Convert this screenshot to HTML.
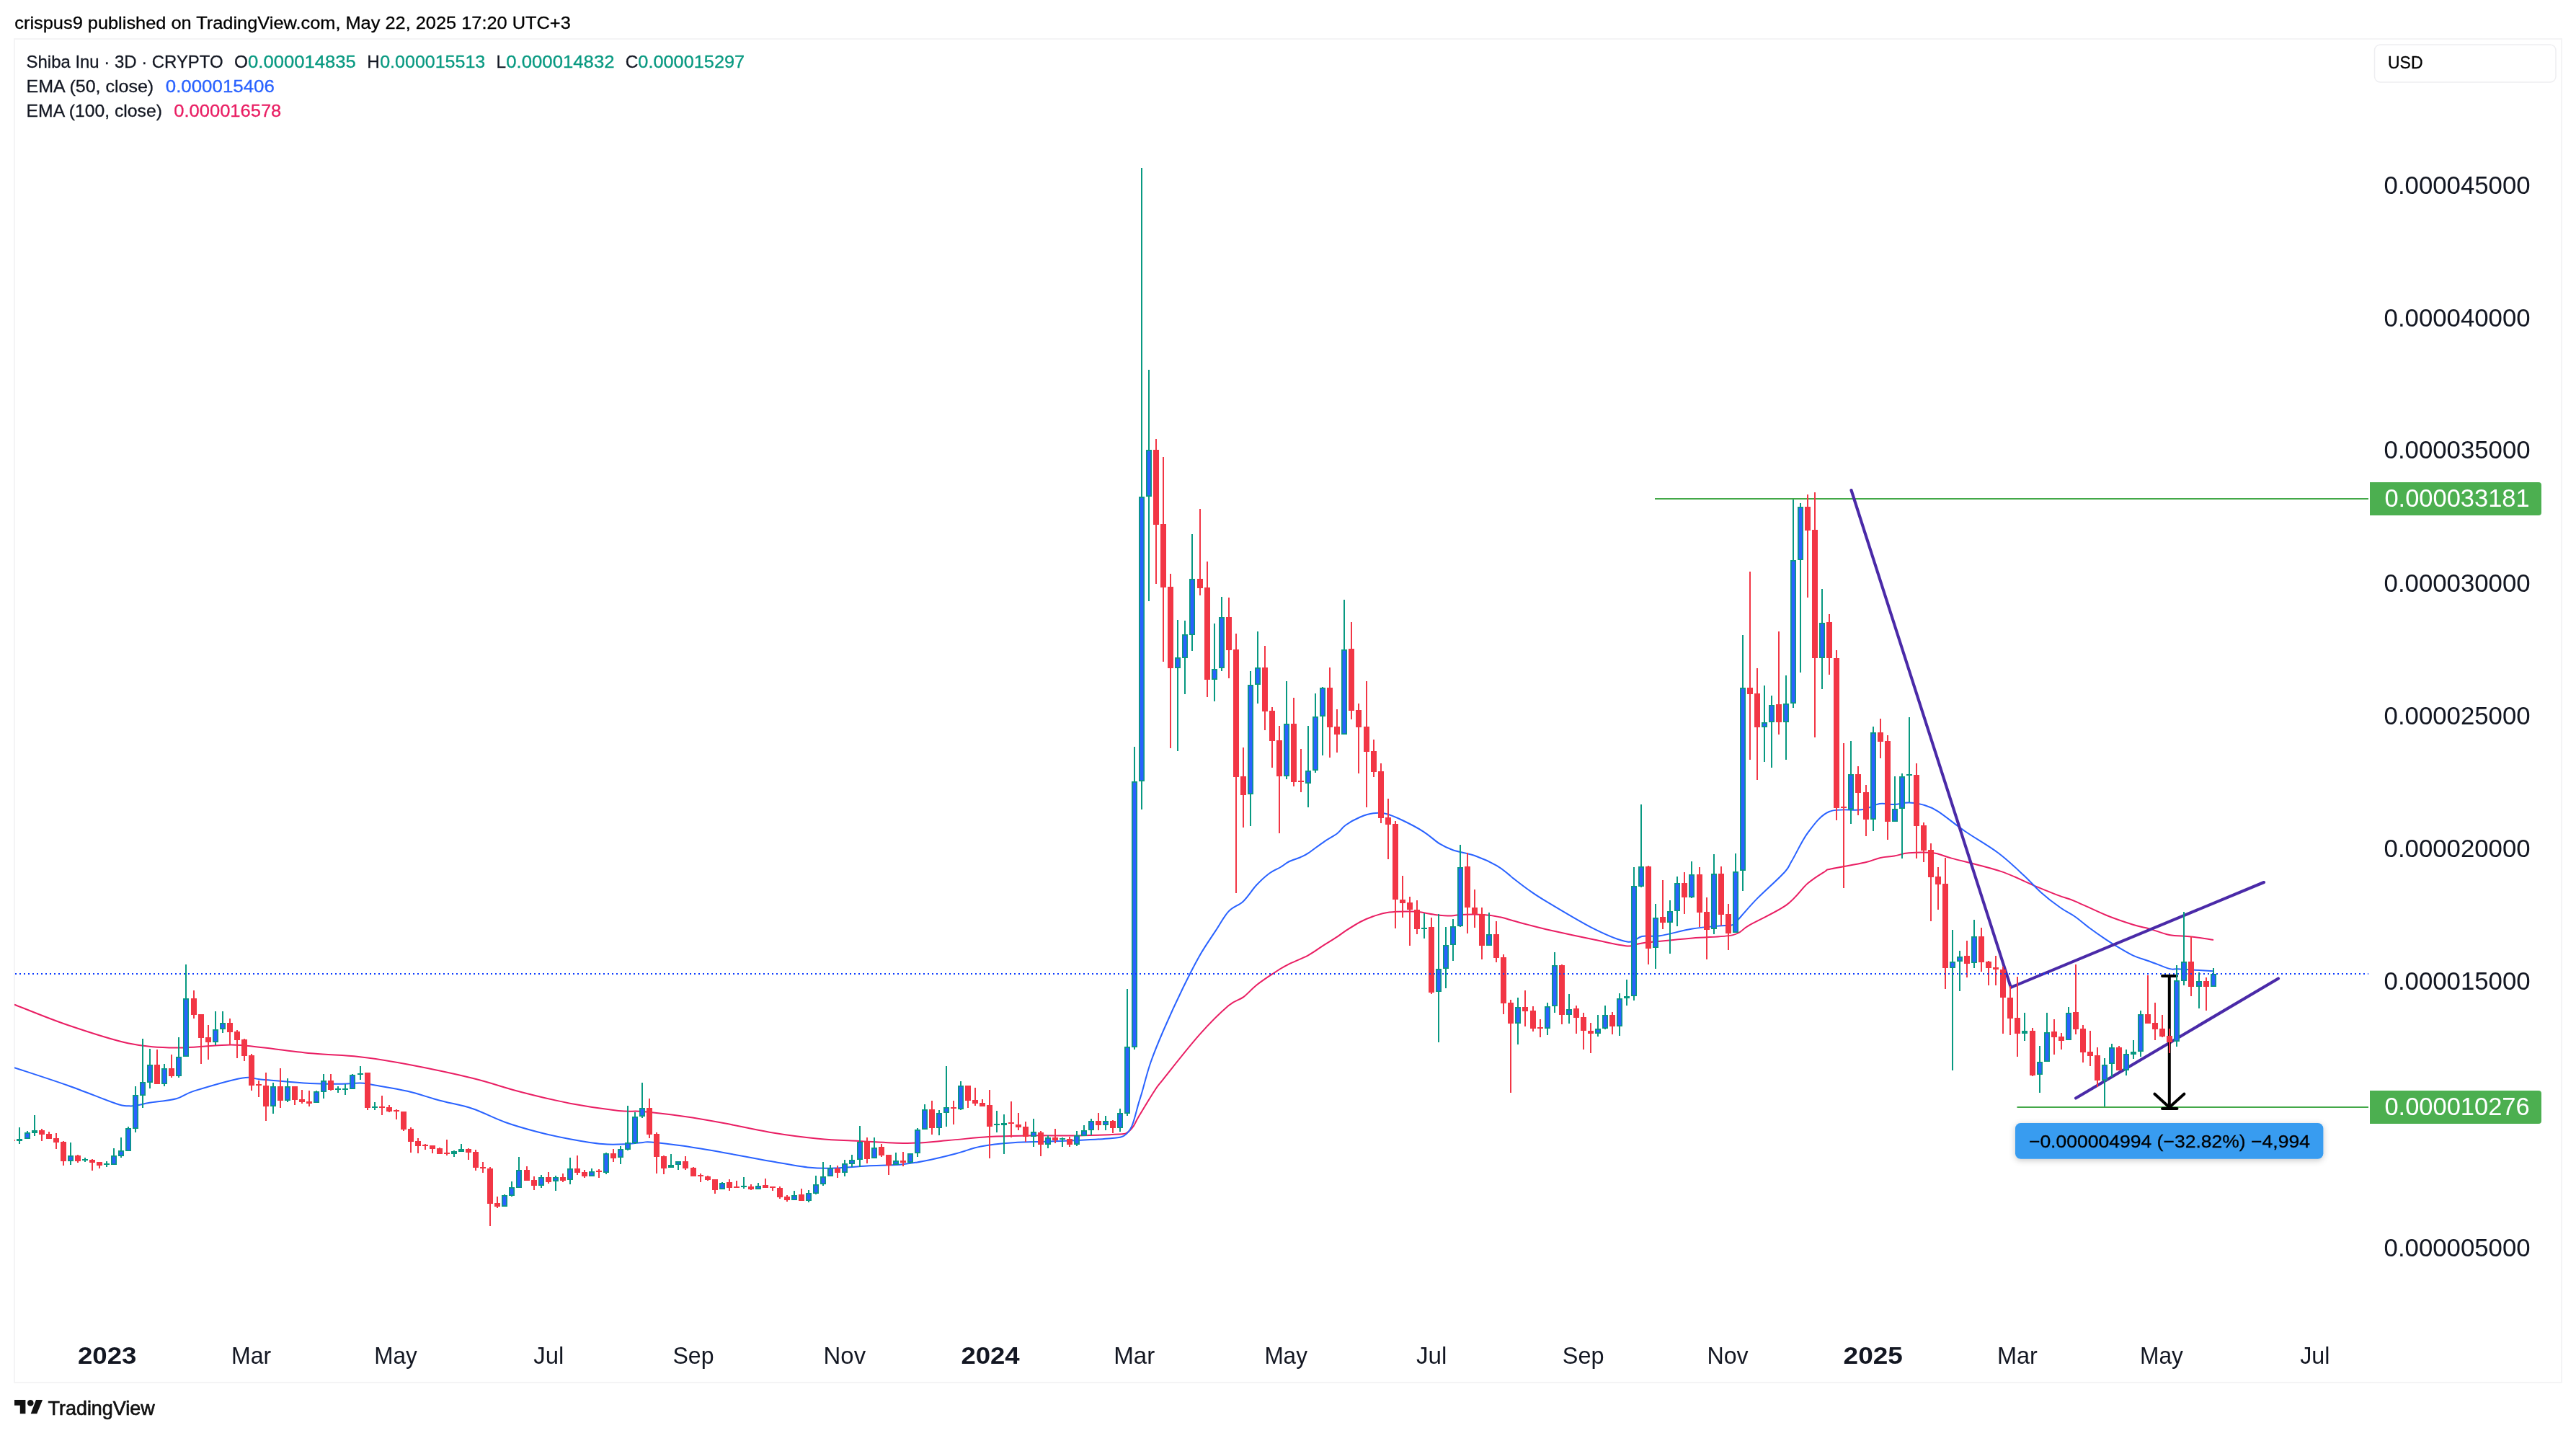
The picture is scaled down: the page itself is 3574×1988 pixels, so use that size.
<!DOCTYPE html><html><head><meta charset="utf-8"><title>Shiba Inu chart</title>
<style>html,body{margin:0;padding:0;background:#fff}svg{display:block;will-change:transform}text{font-family:"Liberation Sans", sans-serif;white-space:pre}</style></head><body>
<svg width="3574" height="1988" viewBox="0 0 3574 1988">
<defs><clipPath id="plot"><rect x="20" y="55" width="3266" height="1862"/></clipPath><filter id="sh" x="-6%" y="-40%" width="112%" height="190%"><feDropShadow dx="0" dy="2" stdDeviation="4.5" flood-color="#000" flood-opacity="0.22"/></filter></defs>
<rect width="3574" height="1988" fill="#fff"/>
<rect x="20" y="54" width="3534" height="1864" fill="none" stroke="#f4f4f5" stroke-width="2"/>
<text x="20.3" y="39.8" font-size="24.5" fill="#000" stroke="#000" stroke-width="0.3" textLength="771.5" lengthAdjust="spacingAndGlyphs">crispus9 published on TradingView.com, May 22, 2025 17:20 UTC+3</text>
<text x="36.6" y="93.6" font-size="24.3" fill="#131722" stroke="#131722" stroke-width="0.3" textLength="273" lengthAdjust="spacingAndGlyphs">Shiba Inu · 3D · CRYPTO</text>
<text x="324.9" y="93.6" font-size="24.3" fill="#131722" stroke="#131722" stroke-width="0.3">O</text>
<text x="344" y="93.6" font-size="24.3" fill="#089981" stroke="#089981" stroke-width="0.3" textLength="149.8" lengthAdjust="spacingAndGlyphs">0.000014835</text>
<text x="509.2" y="93.6" font-size="24.3" fill="#131722" stroke="#131722" stroke-width="0.3">H</text>
<text x="527.2" y="93.6" font-size="24.3" fill="#089981" stroke="#089981" stroke-width="0.3" textLength="146.1" lengthAdjust="spacingAndGlyphs">0.000015513</text>
<text x="688.5" y="93.6" font-size="24.3" fill="#131722" stroke="#131722" stroke-width="0.3">L</text>
<text x="702.3" y="93.6" font-size="24.3" fill="#089981" stroke="#089981" stroke-width="0.3" textLength="150.2" lengthAdjust="spacingAndGlyphs">0.000014832</text>
<text x="867.8" y="93.6" font-size="24.3" fill="#131722" stroke="#131722" stroke-width="0.3">C</text>
<text x="885.3" y="93.6" font-size="24.3" fill="#089981" stroke="#089981" stroke-width="0.3" textLength="147.9" lengthAdjust="spacingAndGlyphs">0.000015297</text>
<text x="36.6" y="127.8" font-size="24.3" fill="#131722" stroke="#131722" stroke-width="0.3" textLength="176.6" lengthAdjust="spacingAndGlyphs">EMA (50, close)</text>
<text x="229.8" y="127.8" font-size="24.3" fill="#2962FF" stroke="#2962FF" stroke-width="0.3" textLength="151" lengthAdjust="spacingAndGlyphs">0.000015406</text>
<text x="36.6" y="161.7" font-size="24.3" fill="#131722" stroke="#131722" stroke-width="0.3" textLength="188.3" lengthAdjust="spacingAndGlyphs">EMA (100, close)</text>
<text x="241.3" y="161.7" font-size="24.3" fill="#E91E63" stroke="#E91E63" stroke-width="0.3" textLength="149" lengthAdjust="spacingAndGlyphs">0.000016578</text>
<rect x="3294.5" y="62" width="251.5" height="52" rx="8" fill="#fff" stroke="#eeeef1" stroke-width="1.5"/>
<text x="3313" y="95.3" font-size="24.3" fill="#000" stroke="#000" stroke-width="0.3" textLength="48.5" lengthAdjust="spacingAndGlyphs">USD</text>
<text x="3307.6" y="268.6" font-size="34.5" fill="#131722" textLength="203" lengthAdjust="spacingAndGlyphs">0.000045000</text>
<text x="3307.6" y="452.8" font-size="34.5" fill="#131722" textLength="203" lengthAdjust="spacingAndGlyphs">0.000040000</text>
<text x="3307.6" y="636.4" font-size="34.5" fill="#131722" textLength="203" lengthAdjust="spacingAndGlyphs">0.000035000</text>
<text x="3307.6" y="821.3" font-size="34.5" fill="#131722" textLength="203" lengthAdjust="spacingAndGlyphs">0.000030000</text>
<text x="3307.6" y="1005.4" font-size="34.5" fill="#131722" textLength="203" lengthAdjust="spacingAndGlyphs">0.000025000</text>
<text x="3307.6" y="1189.2" font-size="34.5" fill="#131722" textLength="203" lengthAdjust="spacingAndGlyphs">0.000020000</text>
<text x="3307.6" y="1373.2" font-size="34.5" fill="#131722" textLength="203" lengthAdjust="spacingAndGlyphs">0.000015000</text>
<text x="3307.6" y="1742.6" font-size="34.5" fill="#131722" textLength="203" lengthAdjust="spacingAndGlyphs">0.000005000</text>
<text x="108" y="1892.2" font-size="33.9" fill="#131722" textLength="81.5" lengthAdjust="spacingAndGlyphs" font-weight="bold">2023</text>
<text x="321" y="1892.2" font-size="33.9" fill="#131722" textLength="55.1" lengthAdjust="spacingAndGlyphs">Mar</text>
<text x="519.2" y="1892.2" font-size="33.9" fill="#131722" textLength="59.5" lengthAdjust="spacingAndGlyphs">May</text>
<text x="740.2" y="1892.2" font-size="33.9" fill="#131722" textLength="42.1" lengthAdjust="spacingAndGlyphs">Jul</text>
<text x="933.4" y="1892.2" font-size="33.9" fill="#131722" textLength="57.1" lengthAdjust="spacingAndGlyphs">Sep</text>
<text x="1142.6" y="1892.2" font-size="33.9" fill="#131722" textLength="58.5" lengthAdjust="spacingAndGlyphs">Nov</text>
<text x="1333.4" y="1892.2" font-size="33.9" fill="#131722" textLength="81.3" lengthAdjust="spacingAndGlyphs" font-weight="bold">2024</text>
<text x="1545.2" y="1892.2" font-size="33.9" fill="#131722" textLength="57.1" lengthAdjust="spacingAndGlyphs">Mar</text>
<text x="1754.4" y="1892.2" font-size="33.9" fill="#131722" textLength="59.5" lengthAdjust="spacingAndGlyphs">May</text>
<text x="1965" y="1892.2" font-size="33.9" fill="#131722" textLength="42.5" lengthAdjust="spacingAndGlyphs">Jul</text>
<text x="2167.8" y="1892.2" font-size="33.9" fill="#131722" textLength="57.7" lengthAdjust="spacingAndGlyphs">Sep</text>
<text x="2368.4" y="1892.2" font-size="33.9" fill="#131722" textLength="57.3" lengthAdjust="spacingAndGlyphs">Nov</text>
<text x="2557.6" y="1892.2" font-size="33.9" fill="#131722" textLength="82.3" lengthAdjust="spacingAndGlyphs" font-weight="bold">2025</text>
<text x="2771" y="1892.2" font-size="33.9" fill="#131722" textLength="55.9" lengthAdjust="spacingAndGlyphs">Mar</text>
<text x="2969" y="1892.2" font-size="33.9" fill="#131722" textLength="59.9" lengthAdjust="spacingAndGlyphs">May</text>
<text x="3191.2" y="1892.2" font-size="33.9" fill="#131722" textLength="41.3" lengthAdjust="spacingAndGlyphs">Jul</text>
<g clip-path="url(#plot)">
<path d="M2296 692H3286M2798.5 1536H3286" stroke="#43A848" stroke-width="2" fill="none"/>
<path d="M20 1393.6C32.3 1398.3 67.5 1413.1 93.8 1422C120 1430.9 152.4 1441.9 177.5 1447.2C202.6 1452.5 220.8 1453.2 244.5 1453.6C268.2 1454 300.3 1449.5 319.9 1449.4C339.4 1449.3 342.6 1451 361.8 1453C381 1455 412.4 1459.4 435 1461.6C457.6 1463.8 475.9 1463.5 497.6 1466C519.3 1468.5 539 1471.6 565.3 1476.6C591.6 1481.6 629.1 1489.4 655.4 1495.8C681.7 1502.2 700.5 1509.2 723 1515C745.5 1520.8 768.2 1526.4 790.7 1530.7C813.2 1535 841.4 1539 858.3 1540.9C875.2 1542.8 877.1 1540.7 892.1 1542C907.1 1543.3 929.7 1546.1 948.5 1548.8C967.3 1551.5 985.1 1554.6 1005 1558.3C1024.8 1562 1045.9 1567.1 1067.6 1570.7C1089.3 1574.3 1114.6 1577.7 1135.3 1579.7C1156 1581.8 1170.9 1582 1191.6 1583C1212.2 1584 1238.5 1586.2 1259.2 1586C1279.9 1585.8 1296.8 1583.6 1315.6 1582.1C1334.4 1580.6 1353.2 1578.1 1372 1577C1390.8 1575.9 1407.6 1575.7 1428.3 1575.4C1449 1575.1 1475.2 1575.7 1495.9 1575.4C1516.6 1575.1 1541 1574.3 1552.3 1573.6C1563.6 1572.9 1560.2 1573.2 1563.6 1571.3C1567 1569.4 1569.9 1566 1572.6 1562.3C1575.3 1558.5 1575.1 1557 1580 1548.8C1584.9 1540.6 1596.3 1521.7 1602 1513C1607.7 1504.3 1604.1 1509.5 1614.4 1496.6C1624.7 1483.7 1649 1452.6 1664 1435.7C1679 1418.8 1694.4 1403.8 1704.6 1395.1C1714.8 1386.4 1718.5 1388.1 1724.9 1383.4C1731.3 1378.7 1736.2 1372.4 1742.9 1367C1749.7 1361.6 1758.3 1355.9 1765.4 1351.2C1772.5 1346.5 1777.4 1343.1 1785.7 1338.8C1794 1334.5 1806.3 1330 1815 1325.3C1823.7 1320.6 1830.8 1314.9 1837.6 1310.6C1844.4 1306.3 1850.7 1302.5 1855.6 1299.3C1860.5 1296.1 1861.6 1294.8 1866.9 1291.4C1872.2 1288 1880.8 1282.4 1887.2 1279C1893.6 1275.6 1898.5 1273.5 1905.2 1271.2C1912 1269 1919.1 1266.6 1927.7 1265.5C1936.3 1264.4 1950.2 1264.5 1957 1264.4C1963.8 1264.3 1962.6 1264.3 1968.3 1265.1C1974 1265.8 1983.4 1268 1990.9 1268.9C1998.4 1269.8 2007.4 1270.5 2013.4 1270.5C2019.4 1270.5 2019.4 1269.2 2026.9 1268.9C2034.4 1268.6 2049.5 1268.3 2058.5 1268.9C2067.5 1269.5 2074.1 1270.9 2081 1272.3C2087.9 1273.7 2093.5 1275.7 2100 1277.5C2106.5 1279.3 2112.5 1281 2120 1282.9C2127.5 1284.9 2129.7 1285.7 2145.1 1289.2C2160.5 1292.7 2193.9 1299.9 2212.7 1303.8C2231.5 1307.7 2246.9 1311.6 2257.8 1312.4C2268.7 1313.2 2263.1 1310.2 2278.1 1308.4C2293.1 1306.6 2327 1303.5 2348 1301.6C2369 1299.7 2391.2 1300.1 2404.3 1297.1C2417.5 1294.1 2414.5 1290.5 2426.9 1283.6C2439.3 1276.6 2465.2 1265.1 2478.7 1255.4C2492.2 1245.7 2499.1 1233.3 2508 1225.6C2516.9 1217.9 2526.7 1212.3 2532 1209C2537.3 1205.7 2530.8 1207.6 2540 1205.5C2549.2 1203.4 2575.9 1199.2 2587.4 1196.6C2598.9 1194 2602.2 1191.4 2609 1189.9C2615.8 1188.4 2621.4 1188.7 2628 1187.6C2634.6 1186.5 2639.3 1184 2648.3 1183.3C2657.3 1182.6 2672.2 1182.1 2682.1 1183.3C2692 1184.5 2692.1 1186.4 2707.6 1190.6C2723.1 1194.8 2756.5 1202.4 2775.3 1208.6C2794.1 1214.8 2806.8 1222.2 2820.3 1227.8C2833.8 1233.4 2846.6 1238.7 2856.4 1242.4C2866.2 1246.2 2868.1 1245.8 2879 1250.3C2889.9 1254.8 2908.3 1264 2921.8 1269.5C2935.3 1275 2950 1279.8 2960.1 1283C2970.2 1286.2 2974.3 1286.3 2982.6 1288.6C2990.9 1290.9 3000.1 1295.2 3009.7 1297C3019.3 1298.8 3029.9 1298.3 3040.1 1299.5C3050.3 1300.7 3065.8 1303.2 3071 1304" fill="none" stroke="#E91E63" stroke-width="2" stroke-linejoin="round"/>
<path d="M20 1481.2C32.3 1485.3 70.3 1497.5 93.8 1505.8C117.3 1514.1 146.6 1526.2 160.8 1531C175 1535.8 174.7 1533.8 179.2 1534.3C183.7 1534.8 185.1 1534.1 187.6 1533.8C190.1 1533.5 191 1533.3 194.3 1532.6C197.7 1531.9 199.3 1531.2 207.7 1529.8C216.1 1528.4 234.2 1527 244.5 1524.3C254.8 1521.6 254.3 1518.2 269.6 1513.4C285 1508.6 321.2 1498.1 336.6 1495.4C352 1492.8 346.2 1496.2 361.8 1497.5C377.4 1498.8 411.1 1502 430 1503C448.9 1504 463.4 1503.8 475 1503.7C486.6 1503.6 492.4 1502.3 499.9 1502.6C507.4 1502.9 509.3 1503.6 520.2 1505.5C531.1 1507.4 550.3 1510.3 565.3 1513.8C580.3 1517.3 595.3 1522.7 610.3 1526.7C625.3 1530.7 640.4 1533 655.4 1538C670.4 1543 685.5 1551.3 700.5 1556.7C715.5 1562.1 730.6 1566.3 745.6 1570.2C760.6 1574.1 775.7 1577.5 790.7 1580.3C805.7 1583.1 822.6 1586 835.8 1587.1C848.9 1588.2 860.2 1587.5 869.6 1587.1C879 1586.7 886.5 1585.4 892.1 1584.9C897.7 1584.5 894 1583.6 903.4 1584.4C912.8 1585.2 931.6 1587.3 948.5 1589.8C965.4 1592.3 985.1 1595.7 1005 1599.2C1024.8 1602.7 1047.8 1607.4 1067.6 1610.8C1087.4 1614.2 1109 1618.2 1124 1619.8C1139 1621.4 1144.6 1620.9 1157.8 1620.5C1171 1620.1 1187.9 1618.3 1202.9 1617.5C1217.9 1616.7 1234.8 1616.8 1248 1615.7C1261.2 1614.6 1268.6 1613.4 1281.8 1610.8C1295 1608.2 1313.8 1603.6 1326.9 1600.2C1340.1 1596.8 1347.6 1593 1360.7 1590.5C1373.8 1588 1390.8 1586.4 1405.8 1585.3C1420.8 1584.2 1435.9 1584.2 1450.9 1583.7C1465.9 1583.2 1480.9 1582.8 1495.9 1582.1C1510.9 1581.3 1530.5 1580.2 1541 1579.2C1551.5 1578.2 1554.2 1578.6 1559.1 1575.8C1564 1573 1566.8 1570 1570.3 1562.3C1573.8 1554.6 1577.5 1537.8 1580 1529.6C1582.5 1521.4 1582.4 1522.3 1585.1 1513C1587.8 1503.7 1591.5 1488 1596.4 1474C1601.3 1460 1606.9 1446.3 1614.4 1429C1621.9 1411.7 1633.1 1387.4 1641.4 1370.3C1649.7 1353.2 1656.5 1339.6 1664 1326.4C1671.5 1313.2 1679.7 1301.7 1686.5 1291.4C1693.3 1281.1 1698.2 1271.2 1704.6 1264.4C1711 1257.6 1718.5 1256.4 1724.9 1250.4C1731.3 1244.4 1737.1 1234.6 1742.9 1228.3C1748.8 1222 1754.4 1216.7 1760 1212.5C1765.6 1208.3 1772 1205.8 1776.7 1203C1781.4 1200.2 1783.5 1197.8 1788 1195.5C1792.5 1193.2 1799.3 1191.5 1803.8 1189.5C1808.3 1187.5 1809.4 1187.4 1815 1183.7C1820.6 1180 1830.8 1171.9 1837.6 1167.3C1844.4 1162.7 1850.7 1159.8 1855.6 1156C1860.5 1152.2 1861.6 1148.5 1866.9 1144.7C1872.2 1141 1880.8 1136.2 1887.2 1133.5C1893.6 1130.8 1899.2 1129 1905.2 1128.3C1911.2 1127.5 1916.4 1127.4 1923.2 1129C1930 1130.6 1937.2 1133.9 1945.8 1138C1954.4 1142.1 1966.5 1148.3 1975.1 1153.8C1983.7 1159.2 1990.8 1166.5 1997.6 1170.7C2004.4 1174.9 2007.4 1176.4 2015.7 1179.2C2024 1182 2037.1 1183.9 2047.2 1187.5C2057.3 1191.1 2069 1196.6 2076.5 1200.8C2084 1205 2088.4 1209.4 2092.3 1212.4C2096.2 1215.4 2095.4 1215.3 2100 1218.9C2104.6 1222.5 2112.5 1228.8 2120 1234C2127.5 1239.2 2129.7 1241.2 2145.1 1250.4C2160.5 1259.6 2193.9 1279.9 2212.7 1289.2C2231.5 1298.5 2246.9 1304.9 2257.8 1306.5C2268.7 1308.1 2270.6 1300.3 2278.1 1298.9C2285.6 1297.5 2291.2 1299.9 2302.9 1298.2C2314.6 1296.5 2333.7 1290.8 2348 1288.5C2362.3 1286.2 2379.1 1285.1 2388.5 1284.2C2397.9 1283.3 2399.8 1285.1 2404.3 1282.9C2408.8 1280.7 2410 1277.3 2415.6 1271.2C2421.2 1265.1 2428.2 1256.4 2438.1 1246.4C2448 1236.4 2467 1219.7 2475 1211C2483 1202.3 2480.4 1203.6 2486 1194.3C2491.6 1185 2499.9 1166.3 2508.5 1154.9C2517.1 1143.5 2525.4 1131.3 2537.8 1126C2550.2 1120.7 2571.2 1125.1 2582.9 1123.3C2594.6 1121.5 2600.2 1116.2 2607.7 1115C2615.2 1113.8 2621.2 1116.3 2628 1116.1C2634.8 1115.9 2641.5 1113.5 2648.3 1113.6C2655.1 1113.7 2661.8 1114.6 2668.6 1116.6C2675.3 1118.6 2679.2 1119.5 2688.8 1125.6C2698.4 1131.7 2712.1 1143.4 2726 1153C2739.9 1162.6 2758.3 1172.8 2772 1183C2785.7 1193.2 2798.1 1205.3 2808 1214.5C2817.9 1223.7 2823.2 1230.4 2831.6 1237.9C2840 1245.4 2850.8 1253.7 2858.7 1259.3C2866.6 1264.9 2872.2 1267 2879 1271.7C2885.8 1276.4 2892.1 1282.2 2899.2 1287.5C2906.3 1292.8 2915 1298.8 2921.8 1303.3C2928.6 1307.8 2933.4 1310.8 2939.8 1314.6C2946.2 1318.3 2953 1322.6 2960.1 1325.8C2967.2 1329 2974.3 1330.7 2982.6 1333.7C2990.9 1336.7 3003.3 1342.1 3009.7 1343.9C3016.1 1345.7 3015 1344 3021 1344.3C3027 1344.6 3037.5 1345.2 3045.8 1345.7C3054.1 1346.2 3066.8 1347 3071 1347.2" fill="none" stroke="#2962FF" stroke-width="2" stroke-linejoin="round"/>
<path d="M2568.5 680L2789.9 1369.8L3141 1224M2880 1523.5L3161 1357.5" fill="none" stroke="#4A2AA8" stroke-width="4.1" stroke-linecap="round" stroke-linejoin="round"/>
<path d="M3000 1354H3020M3009.8 1354V1536M2989.5 1517.7L3009.8 1536.2L3030.3 1517.7M3000 1538H3020.5" fill="none" stroke="#000" stroke-width="4" stroke-linecap="round" stroke-linejoin="round"/>
<path d="M3060 1356h2v46h-2zM3057 1361h8v8h-8zM3039 1299h2v83h-2zM3036 1334h8v35h-8zM3009 1427h2v34h-2zM3006 1437h8v9h-8zM2999 1408h2v31h-2zM2996 1427h8v11h-8zM2989 1391h2v52h-2zM2986 1419h8v9h-8zM2979 1353h2v67h-2zM2976 1407h8v13h-8zM2939 1451h2v34h-2zM2936 1453h8v32h-8zM2909 1453h2v55h-2zM2906 1464h8v35h-8zM2899 1430h2v49h-2zM2896 1459h8v6h-8zM2889 1422h2v52h-2zM2886 1427h8v33h-8zM2879 1338h2v97h-2zM2876 1404h8v24h-8zM2859 1433h2v23h-2zM2856 1438h8v6h-8zM2849 1414h2v49h-2zM2846 1431h8v8h-8zM2819 1426h2v67h-2zM2816 1430h8v62h-8zM2798 1355h2v111h-2zM2795 1412h8v22h-8zM2788 1368h2v68h-2zM2785 1384h8v29h-8zM2778 1341h2v93h-2zM2775 1345h8v39h-8zM2768 1326h2v41h-2zM2765 1342h8v3h-8zM2758 1333h2v34h-2zM2755 1334h8v9h-8zM2748 1287h2v61h-2zM2745 1299h8v36h-8zM2728 1305h2v51h-2zM2725 1326h8v11h-8zM2698 1190h2v182h-2zM2695 1226h8v117h-8zM2688 1203h2v59h-2zM2685 1216h8v11h-8zM2678 1170h2v108h-2zM2675 1179h8v38h-8zM2668 1141h2v55h-2zM2665 1145h8v35h-8zM2658 1059h2v132h-2zM2655 1075h8v71h-8zM2618 1020h2v145h-2zM2615 1028h8v112h-8zM2608 997h2v55h-2zM2605 1016h8v13h-8zM2588 1089h2v71h-2zM2585 1099h8v38h-8zM2577 1063h2v68h-2zM2574 1074h8v26h-8zM2557 1031h2v201h-2zM2554 1119h8v2h-8zM2547 902h2v236h-2zM2544 913h8v208h-8zM2537 852h2v84h-2zM2534 863h8v50h-8zM2517 683h2v340h-2zM2514 735h8v178h-8zM2507 686h2v143h-2zM2504 703h8v33h-8zM2467 876h2v143h-2zM2464 977h8v25h-8zM2437 927h2v155h-2zM2434 962h8v47h-8zM2427 793h2v261h-2zM2424 954h8v9h-8zM2397 1254h2v64h-2zM2394 1268h8v27h-8zM2387 1202h2v82h-2zM2384 1212h8v57h-8zM2367 1245h2v86h-2zM2364 1265h8v25h-8zM2357 1203h2v83h-2zM2354 1213h8v53h-8zM2336 1210h2v58h-2zM2333 1225h8v20h-8zM2306 1221h2v68h-2zM2303 1272h8v8h-8zM2286 1201h2v137h-2zM2283 1202h8v114h-8zM2236 1404h2v31h-2zM2233 1408h8v16h-8zM2206 1419h2v42h-2zM2203 1430h8v4h-8zM2196 1405h2v51h-2zM2193 1411h8v19h-8zM2186 1395h2v39h-2zM2183 1399h8v13h-8zM2166 1338h2v83h-2zM2163 1339h8v69h-8zM2136 1414h2v25h-2zM2133 1425h8v2h-8zM2126 1396h2v35h-2zM2123 1402h8v25h-8zM2115 1374h2v50h-2zM2112 1397h8v6h-8zM2095 1387h2v129h-2zM2092 1391h8v29h-8zM2085 1324h2v83h-2zM2082 1328h8v64h-8zM2075 1278h2v57h-2zM2072 1296h8v33h-8zM2055 1259h2v72h-2zM2052 1268h8v44h-8zM2045 1234h2v53h-2zM2042 1259h8v9h-8zM2035 1183h2v112h-2zM2032 1202h8v57h-8zM1985 1273h2v106h-2zM1982 1286h8v91h-8zM1965 1249h2v47h-2zM1962 1262h8v27h-8zM1955 1244h2v68h-2zM1952 1252h8v10h-8zM1945 1215h2v58h-2zM1942 1248h8v5h-8zM1935 1139h2v149h-2zM1932 1143h8v105h-8zM1925 1108h2v84h-2zM1922 1134h8v10h-8zM1915 1059h2v83h-2zM1912 1070h8v65h-8zM1905 1026h2v52h-2zM1902 1042h8v29h-8zM1895 945h2v175h-2zM1892 1008h8v35h-8zM1884 976h2v97h-2zM1881 985h8v24h-8zM1874 863h2v135h-2zM1871 900h8v86h-8zM1854 984h2v60h-2zM1851 1008h8v11h-8zM1844 926h2v125h-2zM1841 954h8v55h-8zM1804 1039h2v60h-2zM1801 1083h8v2h-8zM1794 968h2v123h-2zM1791 1004h8v81h-8zM1774 1007h2v149h-2zM1771 1027h8v50h-8zM1764 981h2v84h-2zM1761 986h8v42h-8zM1754 896h2v117h-2zM1751 926h8v61h-8zM1724 1037h2v111h-2zM1721 1077h8v26h-8zM1714 879h2v360h-2zM1711 901h8v177h-8zM1704 829h2v112h-2zM1701 856h8v46h-8zM1674 779h2v188h-2zM1671 815h8v128h-8zM1664 706h2v120h-2zM1661 803h8v13h-8zM1623 796h2v242h-2zM1620 814h8v113h-8zM1613 634h2v284h-2zM1610 727h8v88h-8zM1603 609h2v201h-2zM1600 624h8v104h-8zM1543 1554h2v18h-2zM1540 1555h8v10h-8zM1523 1544h2v24h-2zM1520 1555h8v6h-8zM1483 1577h2v14h-2zM1480 1580h8v8h-8zM1463 1566h2v20h-2zM1460 1578h8v4h-8zM1443 1569h2v35h-2zM1440 1571h8v17h-8zM1422 1556h2v28h-2zM1419 1563h8v14h-8zM1412 1544h2v24h-2zM1409 1560h8v4h-8zM1402 1528h2v50h-2zM1399 1557h8v2h-8zM1372 1512h2v95h-2zM1369 1533h8v30h-8zM1362 1525h2v10h-2zM1359 1530h8v5h-8zM1352 1509h2v25h-2zM1349 1526h8v5h-8zM1342 1506h2v31h-2zM1339 1506h8v21h-8zM1322 1527h2v33h-2zM1319 1536h8v2h-8zM1292 1527h2v47h-2zM1289 1539h8v26h-8zM1252 1598h2v20h-2zM1249 1610h8v3h-8zM1232 1602h2v28h-2zM1229 1602h8v15h-8zM1222 1587h2v18h-2zM1219 1591h8v12h-8zM1202 1578h2v36h-2zM1199 1583h8v25h-8zM1161 1617h2v17h-2zM1158 1621h8v6h-8zM1111 1649h2v17h-2zM1108 1657h8v9h-8zM1091 1658h2v9h-2zM1088 1660h8v5h-8zM1081 1646h2v17h-2zM1078 1648h8v13h-8zM1071 1646h2v6h-2zM1068 1646h8v2h-8zM1061 1635h2v13h-2zM1058 1644h8v4h-8zM1041 1643h2v8h-2zM1038 1646h8v4h-8zM1021 1638h2v10h-2zM1018 1646h8v2h-8zM1011 1636h2v16h-2zM1008 1640h8v8h-8zM991 1636h2v20h-2zM988 1636h8v15h-8zM981 1631h2v7h-2zM978 1632h8v5h-8zM971 1628h2v12h-2zM968 1630h8v2h-8zM961 1619h2v13h-2zM958 1620h8v12h-8zM950 1604h2v19h-2zM947 1611h8v10h-8zM920 1603h2v26h-2zM917 1604h8v17h-8zM910 1571h2v57h-2zM907 1573h8v32h-8zM900 1524h2v55h-2zM897 1537h8v37h-8zM850 1594h2v18h-2zM847 1600h8v7h-8zM830 1622h2v12h-2zM827 1624h8v2h-8zM810 1623h2v11h-2zM807 1626h8v6h-8zM800 1603h2v27h-2zM797 1621h8v6h-8zM780 1628h2v12h-2zM777 1633h8v5h-8zM760 1626h2v16h-2zM757 1633h8v7h-8zM740 1632h2v19h-2zM737 1637h8v8h-8zM730 1618h2v20h-2zM727 1623h8v15h-8zM689 1660h2v16h-2zM686 1669h8v5h-8zM679 1619h2v82h-2zM676 1621h8v49h-8zM669 1612h2v15h-2zM666 1619h8v2h-8zM659 1595h2v29h-2zM656 1598h8v22h-8zM649 1593h2v16h-2zM646 1594h8v5h-8zM619 1581h2v22h-2zM616 1599h8v2h-8zM609 1592h2v9h-2zM606 1593h8v8h-8zM599 1589h2v11h-2zM596 1589h8v5h-8zM589 1587h2v8h-2zM586 1588h8v2h-8zM579 1579h2v21h-2zM576 1583h8v7h-8zM569 1564h2v35h-2zM566 1566h8v18h-8zM559 1542h2v27h-2zM556 1542h8v25h-8zM549 1539h2v14h-2zM546 1540h8v2h-8zM539 1533h2v10h-2zM536 1536h8v6h-8zM529 1520h2v27h-2zM526 1535h8v2h-8zM509 1488h2v52h-2zM506 1488h8v49h-8zM458 1490h2v23h-2zM455 1499h8v13h-8zM428 1513h2v22h-2zM425 1528h8v3h-8zM418 1512h2v19h-2zM415 1525h8v4h-8zM408 1507h2v26h-2zM405 1507h8v19h-8zM388 1482h2v55h-2zM385 1507h8v20h-8zM368 1488h2v67h-2zM365 1506h8v29h-8zM358 1499h2v23h-2zM355 1504h8v2h-8zM348 1462h2v51h-2zM345 1464h8v42h-8zM338 1441h2v31h-2zM335 1442h8v23h-8zM328 1429h2v39h-2zM325 1431h8v12h-8zM318 1413h2v37h-2zM315 1419h8v13h-8zM288 1422h2v48h-2zM285 1439h8v7h-8zM278 1407h2v69h-2zM275 1407h8v33h-8zM268 1374h2v39h-2zM265 1385h8v23h-8zM237 1463h2v32h-2zM234 1482h8v11h-8zM217 1456h2v48h-2zM214 1477h8v27h-8zM137 1612h2v9h-2zM134 1612h8v5h-8zM127 1608h2v16h-2zM124 1609h8v4h-8zM107 1602h2v11h-2zM104 1603h8v8h-8zM87 1583h2v34h-2zM84 1584h8v27h-8zM77 1572h2v22h-2zM74 1579h8v6h-8zM67 1570h2v10h-2zM64 1573h8v7h-8zM57 1566h2v17h-2zM54 1568h8v6h-8zM13 1581h8v2h-8z" fill="#F23645" shape-rendering="crispEdges"/>
<path d="M3070 1343h2v26h-2zM3067 1351h8v18h-8zM3050 1349h2v50h-2zM3047 1361h8v8h-8zM3029 1265h2v102h-2zM3026 1334h8v27h-8zM3019 1339h2v113h-2zM3016 1360h8v85h-8zM2969 1402h2v64h-2zM2966 1407h8v52h-8zM2959 1443h2v26h-2zM2956 1459h8v4h-8zM2949 1456h2v36h-2zM2946 1462h8v23h-8zM2929 1448h2v46h-2zM2926 1453h8v23h-8zM2919 1468h2v67h-2zM2916 1477h8v22h-8zM2869 1397h2v46h-2zM2866 1405h8v38h-8zM2839 1405h2v68h-2zM2836 1432h8v41h-8zM2829 1451h2v65h-2zM2826 1473h8v18h-8zM2808 1405h2v39h-2zM2805 1430h8v4h-8zM2738 1276h2v67h-2zM2735 1299h8v37h-8zM2718 1319h2v56h-2zM2715 1327h8v7h-8zM2708 1290h2v195h-2zM2705 1334h8v9h-8zM2648 995h2v118h-2zM2645 1074h8v2h-8zM2638 1073h2v118h-2zM2635 1077h8v45h-8zM2628 1077h2v63h-2zM2625 1122h8v18h-8zM2598 1008h2v145h-2zM2595 1016h8v121h-8zM2567 1028h2v115h-2zM2564 1074h8v49h-8zM2527 817h2v139h-2zM2524 864h8v49h-8zM2497 698h2v235h-2zM2494 703h8v74h-8zM2487 693h2v289h-2zM2484 777h8v199h-8zM2477 937h2v117h-2zM2474 976h8v26h-8zM2457 965h2v100h-2zM2454 978h8v24h-8zM2447 951h2v106h-2zM2444 1002h8v7h-8zM2417 881h2v355h-2zM2414 954h8v254h-8zM2407 1184h2v110h-2zM2404 1209h8v85h-8zM2377 1185h2v111h-2zM2374 1212h8v77h-8zM2346 1195h2v51h-2zM2343 1213h8v32h-8zM2326 1216h2v69h-2zM2323 1225h8v39h-8zM2316 1249h2v74h-2zM2313 1264h8v16h-8zM2296 1254h2v90h-2zM2293 1273h8v42h-8zM2276 1116h2v115h-2zM2273 1202h8v28h-8zM2266 1203h2v185h-2zM2263 1229h8v153h-8zM2256 1359h2v36h-2zM2253 1382h8v3h-8zM2246 1378h2v59h-2zM2243 1385h8v39h-8zM2226 1395h2v33h-2zM2223 1408h8v19h-8zM2216 1408h2v30h-2zM2213 1427h8v7h-8zM2176 1379h2v41h-2zM2173 1400h8v8h-8zM2156 1321h2v84h-2zM2153 1339h8v57h-8zM2146 1391h2v45h-2zM2143 1396h8v31h-8zM2105 1384h2v65h-2zM2102 1397h8v23h-8zM2065 1266h2v46h-2zM2062 1296h8v16h-8zM2025 1172h2v114h-2zM2022 1203h8v82h-8zM2015 1275h2v58h-2zM2012 1285h8v26h-8zM2005 1286h2v85h-2zM2002 1311h8v33h-8zM1995 1268h2v178h-2zM1992 1344h8v32h-8zM1975 1267h2v35h-2zM1972 1287h8v2h-8zM1864 832h2v187h-2zM1861 901h8v118h-8zM1834 953h2v95h-2zM1831 954h8v40h-8zM1824 962h2v110h-2zM1821 994h8v75h-8zM1814 1007h2v113h-2zM1811 1069h8v18h-8zM1784 945h2v136h-2zM1781 1004h8v73h-8zM1744 876h2v100h-2zM1741 926h8v24h-8zM1734 931h2v215h-2zM1731 950h8v152h-8zM1694 828h2v103h-2zM1691 856h8v71h-8zM1684 865h2v108h-2zM1681 928h8v15h-8zM1653 741h2v162h-2zM1650 803h8v78h-8zM1643 861h2v102h-2zM1640 880h8v33h-8zM1633 860h2v182h-2zM1630 912h8v15h-8zM1593 513h2v321h-2zM1590 624h8v65h-8zM1583 233h2v890h-2zM1580 689h8v395h-8zM1573 1036h2v420h-2zM1570 1084h8v369h-8zM1563 1372h2v176h-2zM1560 1452h8v93h-8zM1553 1538h2v32h-2zM1550 1544h8v21h-8zM1533 1548h2v20h-2zM1530 1555h8v6h-8zM1513 1552h2v23h-2zM1510 1555h8v13h-8zM1503 1561h2v15h-2zM1500 1568h8v8h-8zM1493 1569h2v21h-2zM1490 1575h8v13h-8zM1473 1578h2v13h-2zM1470 1579h8v2h-8zM1453 1575h2v18h-2zM1450 1578h8v10h-8zM1433 1552h2v39h-2zM1430 1570h8v7h-8zM1392 1546h2v55h-2zM1389 1558h8v3h-8zM1382 1541h2v30h-2zM1379 1559h8v2h-8zM1332 1500h2v40h-2zM1329 1506h8v33h-8zM1312 1479h2v84h-2zM1309 1536h8v8h-8zM1302 1540h2v35h-2zM1299 1544h8v21h-8zM1282 1532h2v35h-2zM1279 1539h8v28h-8zM1272 1565h2v40h-2zM1269 1567h8v33h-8zM1262 1600h2v14h-2zM1259 1600h8v13h-8zM1242 1599h2v17h-2zM1239 1610h8v6h-8zM1212 1578h2v29h-2zM1209 1592h8v15h-8zM1192 1562h2v57h-2zM1189 1584h8v25h-8zM1181 1602h2v17h-2zM1178 1609h8v6h-8zM1171 1609h2v23h-2zM1168 1614h8v13h-8zM1151 1616h2v16h-2zM1148 1620h8v12h-8zM1141 1612h2v33h-2zM1138 1632h8v11h-8zM1131 1631h2v26h-2zM1128 1643h8v13h-8zM1121 1651h2v17h-2zM1118 1655h8v11h-8zM1101 1652h2v13h-2zM1098 1658h8v7h-8zM1051 1641h2v9h-2zM1048 1645h8v5h-8zM1031 1633h2v16h-2zM1028 1645h8v2h-8zM1001 1640h2v10h-2zM998 1641h8v9h-8zM940 1611h2v12h-2zM937 1611h8v5h-8zM930 1601h2v19h-2zM927 1616h8v4h-8zM890 1502h2v49h-2zM887 1537h8v12h-8zM880 1543h2v44h-2zM877 1549h8v37h-8zM870 1534h2v62h-2zM867 1585h8v10h-8zM860 1590h2v25h-2zM857 1594h8v12h-8zM840 1599h2v30h-2zM837 1600h8v27h-8zM820 1621h2v11h-2zM817 1625h8v7h-8zM790 1606h2v37h-2zM787 1621h8v16h-8zM770 1631h2v21h-2zM767 1633h8v6h-8zM750 1630h2v18h-2zM747 1633h8v12h-8zM719 1605h2v43h-2zM716 1623h8v25h-8zM709 1639h2v21h-2zM706 1647h8v12h-8zM699 1657h2v17h-2zM696 1658h8v16h-8zM639 1587h2v11h-2zM636 1594h8v4h-8zM629 1596h2v9h-2zM626 1597h8v4h-8zM519 1529h2v11h-2zM516 1535h8v2h-8zM499 1479h2v19h-2zM496 1489h8v2h-8zM488 1490h2v21h-2zM485 1491h8v20h-8zM478 1504h2v15h-2zM475 1510h8v2h-8zM468 1507h2v9h-2zM465 1510h8v2h-8zM448 1490h2v34h-2zM445 1499h8v16h-8zM438 1513h2v17h-2zM435 1514h8v16h-8zM398 1496h2v33h-2zM395 1507h8v20h-8zM378 1502h2v43h-2zM375 1507h8v28h-8zM308 1403h2v30h-2zM305 1419h8v9h-8zM298 1403h2v47h-2zM295 1428h8v18h-8zM257 1338h2v128h-2zM254 1385h8v81h-8zM247 1439h2v56h-2zM244 1466h8v27h-8zM227 1476h2v31h-2zM224 1482h8v22h-8zM207 1455h2v55h-2zM204 1477h8v25h-8zM197 1441h2v96h-2zM194 1501h8v19h-8zM187 1507h2v64h-2zM184 1519h8v47h-8zM177 1563h2v34h-2zM174 1565h8v32h-8zM167 1578h2v28h-2zM164 1596h8v8h-8zM157 1593h2v23h-2zM154 1603h8v13h-8zM147 1611h2v8h-2zM144 1614h8v2h-8zM117 1606h2v6h-2zM114 1608h8v2h-8zM97 1585h2v31h-2zM94 1603h8v8h-8zM47 1547h2v29h-2zM44 1568h8v4h-8zM37 1569h2v11h-2zM34 1571h8v9h-8zM26 1564h2v23h-2zM23 1580h8v3h-8z" fill="#089981" shape-rendering="crispEdges"/>
<path d="M3068.7 1352.7h4.7v14.6h-4.7zM3048.7 1362.7h4.7v4.6h-4.7zM3027.7 1335.7h4.7v23.6h-4.7zM3017.7 1361.7h4.7v81.6h-4.7zM2967.7 1408.7h4.7v48.6h-4.7zM2947.7 1463.7h4.7v19.6h-4.7zM2927.7 1454.7h4.7v19.6h-4.7zM2917.7 1478.7h4.7v18.6h-4.7zM2867.7 1406.7h4.7v34.6h-4.7zM2837.7 1433.7h4.7v37.6h-4.7zM2827.7 1474.7h4.7v14.6h-4.7zM2736.7 1300.7h4.7v33.6h-4.7zM2716.7 1328.7h4.7v3.6h-4.7zM2706.7 1335.7h4.7v5.6h-4.7zM2636.7 1078.7h4.7v41.6h-4.7zM2626.7 1123.7h4.7v14.6h-4.7zM2596.7 1017.7h4.7v117.6h-4.7zM2565.7 1075.7h4.7v45.6h-4.7zM2525.7 865.7h4.7v45.6h-4.7zM2495.7 704.7h4.7v70.6h-4.7zM2485.7 778.7h4.7v195.6h-4.7zM2475.7 977.7h4.7v22.6h-4.7zM2455.7 979.7h4.7v20.6h-4.7zM2445.7 1003.7h4.7v3.6h-4.7zM2415.7 955.7h4.7v250.6h-4.7zM2405.7 1210.7h4.7v81.6h-4.7zM2375.7 1213.7h4.7v73.6h-4.7zM2344.7 1214.7h4.7v28.6h-4.7zM2324.7 1226.7h4.7v35.6h-4.7zM2314.7 1265.7h4.7v12.6h-4.7zM2294.7 1274.7h4.7v38.6h-4.7zM2274.7 1203.7h4.7v24.6h-4.7zM2264.7 1230.7h4.7v149.6h-4.7zM2244.7 1386.7h4.7v35.6h-4.7zM2224.7 1409.7h4.7v15.6h-4.7zM2214.7 1428.7h4.7v3.6h-4.7zM2174.7 1401.7h4.7v4.6h-4.7zM2154.7 1340.7h4.7v53.6h-4.7zM2144.7 1397.7h4.7v27.6h-4.7zM2103.7 1398.7h4.7v19.6h-4.7zM2063.7 1297.7h4.7v12.6h-4.7zM2023.7 1204.7h4.7v78.6h-4.7zM2013.7 1286.7h4.7v22.6h-4.7zM2003.7 1312.7h4.7v29.6h-4.7zM1993.7 1345.7h4.7v28.6h-4.7zM1862.7 902.7h4.7v114.6h-4.7zM1832.7 955.7h4.7v36.6h-4.7zM1822.7 995.7h4.7v71.6h-4.7zM1812.7 1070.7h4.7v14.6h-4.7zM1782.7 1005.7h4.7v69.6h-4.7zM1742.7 927.7h4.7v20.6h-4.7zM1732.7 951.7h4.7v148.6h-4.7zM1692.7 857.7h4.7v67.6h-4.7zM1682.7 929.7h4.7v11.6h-4.7zM1651.7 804.7h4.7v74.6h-4.7zM1641.7 881.7h4.7v29.6h-4.7zM1631.7 913.7h4.7v11.6h-4.7zM1591.7 625.7h4.7v61.6h-4.7zM1581.7 690.7h4.7v391.6h-4.7zM1571.7 1085.7h4.7v365.6h-4.7zM1561.7 1453.7h4.7v89.6h-4.7zM1551.7 1545.7h4.7v17.6h-4.7zM1531.7 1556.7h4.7v2.6h-4.7zM1511.7 1556.7h4.7v9.6h-4.7zM1501.7 1569.7h4.7v4.6h-4.7zM1491.7 1576.7h4.7v9.6h-4.7zM1451.7 1579.7h4.7v6.6h-4.7zM1431.7 1571.7h4.7v3.6h-4.7zM1330.7 1507.7h4.7v29.6h-4.7zM1310.7 1537.7h4.7v4.6h-4.7zM1300.7 1545.7h4.7v17.6h-4.7zM1280.7 1540.7h4.7v24.6h-4.7zM1270.7 1568.7h4.7v29.6h-4.7zM1260.7 1601.7h4.7v9.6h-4.7zM1240.7 1611.7h4.7v2.6h-4.7zM1210.7 1593.7h4.7v11.6h-4.7zM1190.7 1585.7h4.7v21.6h-4.7zM1179.7 1610.7h4.7v2.6h-4.7zM1169.7 1615.7h4.7v9.6h-4.7zM1149.7 1621.7h4.7v8.6h-4.7zM1139.7 1633.7h4.7v7.6h-4.7zM1129.7 1644.7h4.7v9.6h-4.7zM1119.7 1656.7h4.7v7.6h-4.7zM1099.7 1659.7h4.7v3.6h-4.7zM1049.7 1646.7h4.7v1.6h-4.7zM999.6 1642.7h4.7v5.6h-4.7zM938.6 1612.7h4.7v1.6h-4.7zM888.6 1538.7h4.7v8.6h-4.7zM878.6 1550.7h4.7v33.6h-4.7zM868.6 1586.7h4.7v6.6h-4.7zM858.6 1595.7h4.7v8.6h-4.7zM838.6 1601.7h4.7v23.6h-4.7zM818.6 1626.7h4.7v3.6h-4.7zM788.6 1622.7h4.7v12.6h-4.7zM768.6 1634.7h4.7v2.6h-4.7zM748.6 1634.7h4.7v8.6h-4.7zM717.6 1624.7h4.7v21.6h-4.7zM707.6 1648.7h4.7v8.6h-4.7zM697.6 1659.7h4.7v12.6h-4.7zM486.6 1492.7h4.7v16.6h-4.7zM446.6 1500.7h4.7v12.6h-4.7zM436.6 1515.7h4.7v12.6h-4.7zM396.6 1508.7h4.7v16.6h-4.7zM376.6 1508.7h4.7v24.6h-4.7zM306.6 1420.7h4.7v5.6h-4.7zM296.6 1429.7h4.7v14.6h-4.7zM255.7 1386.7h4.7v77.6h-4.7zM245.7 1467.7h4.7v23.6h-4.7zM225.7 1483.7h4.7v18.6h-4.7zM205.7 1478.7h4.7v21.6h-4.7zM195.7 1502.7h4.7v15.6h-4.7zM185.7 1520.7h4.7v43.6h-4.7zM175.7 1566.7h4.7v28.6h-4.7zM165.7 1597.7h4.7v4.6h-4.7zM155.7 1604.7h4.7v9.6h-4.7zM95.7 1604.7h4.7v4.6h-4.7zM35.6 1572.7h4.7v5.6h-4.7z" fill="#2962FF"/>
<path d="M21 1351H3286" stroke="#0B3BFF" stroke-width="2" stroke-dasharray="2 4" fill="none"/>
</g>
<rect x="2796" y="1558" width="427.4" height="49.7" rx="7.5" fill="#379CF0" filter="url(#sh)"/>
<text x="2814.9" y="1592" font-size="24.6" fill="#000" stroke="#000" stroke-width="0.3" textLength="390" lengthAdjust="spacingAndGlyphs">−0.000004994 (−32.82%) −4,994</text>
<path d="M3288 669H3522a4 4 0 0 1 4 4V711a4 4 0 0 1 -4 4H3288z" fill="#4CAF50"/>
<text x="3308.4" y="703.2" font-size="34.2" fill="#fff" textLength="201.3" lengthAdjust="spacingAndGlyphs">0.000033181</text>
<path d="M3288 1513.1H3522a4 4 0 0 1 4 4V1555.1a4 4 0 0 1 -4 4H3288z" fill="#4CAF50"/>
<text x="3308.4" y="1547.3" font-size="34.2" fill="#fff" textLength="201.3" lengthAdjust="spacingAndGlyphs">0.000010276</text>
<path d="M20 1942.1H35.4V1961.3H27.8V1949.8H20zM50 1942.1H59.1L51.2 1961.3H42.7z" fill="#111"/><circle cx="42.3" cy="1946.4" r="4.3" fill="#111"/>
<text x="66.6" y="1962.8" font-size="27.5" fill="#111" stroke="#111" stroke-width="0.7" textLength="148" lengthAdjust="spacingAndGlyphs">TradingView</text>
</svg></body></html>
